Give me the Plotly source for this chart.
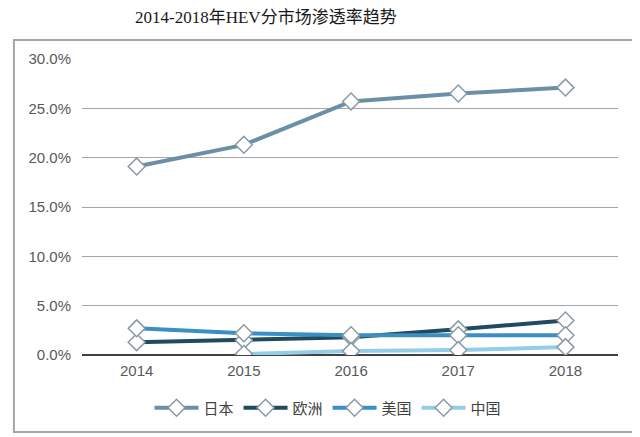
import plotly.graph_objects as go

years = ["2014", "2015", "2016", "2017", "2018"]
japan = [19.1, 21.3, 25.7, 26.5, 27.1]
europe = [1.3, 1.5, 1.8, 2.6, 3.5]
usa = [2.7, 2.2, 2.0, 2.0, 2.0]
china = [None, 0.1, 0.4, 0.5, 0.8]

series = [
    ("日本", japan, "#6b8fa6"),
    ("欧洲", europe, "#1f4a5f"),
    ("美国", usa, "#3c8fc2"),
    ("中国", china, "#94cde8"),
]

fig = go.Figure()
for name, vals, col in series:
    fig.add_trace(go.Scatter(
        x=years, y=vals, name=name, mode="lines+markers",
        line=dict(color=col, width=4),
        marker=dict(symbol="diamond", size=13, color="white",
                    line=dict(color="#8a9aa6", width=1.5)),
        connectgaps=False,
    ))

# page has an 8px body margin, so the figure is sized to fit the window
fig.update_layout(
    width=632, height=429,
    paper_bgcolor="white", plot_bgcolor="white",
    margin=dict(l=74, r=22, t=51, b=82),
    title=dict(text="2014-2018年HEV分市场渗透率趋势", x=0.408, xanchor="center",
               y=0.979, yanchor="middle",
               font=dict(family="Liberation Serif, Noto Sans CJK SC", size=17, color="#1a1a1a")),
    font=dict(family="Liberation Sans, Arial, Noto Sans CJK SC", size=15, color="#595959"),
    showlegend=True,
    legend=dict(orientation="h", x=0.459, xanchor="center", y=-0.179, yanchor="middle",
                font=dict(size=15, color="#404040"), itemwidth=44, traceorder="normal"),
    shapes=[dict(type="rect", xref="paper", yref="paper",
                 x0=-0.127, x1=1.035, y0=-0.26, y1=1.064,
                 line=dict(color="#a6a6a6", width=2))],
)
fig.update_xaxes(type="category", range=[-0.51, 4.49], showgrid=False, showline=False,
                 ticks="", ticklabelstandoff=5, tickfont=dict(size=15, color="#595959"))
fig.update_yaxes(range=[0, 30], dtick=5, tickformat=".1f", ticksuffix="%",
                 showgrid=True, gridcolor="#a6a6a6", gridwidth=1,
                 zeroline=True, zerolinecolor="#404040", zerolinewidth=1.5,
                 ticklabelstandoff=10, tickfont=dict(size=15, color="#595959"))

fig.write_html("out.html")
